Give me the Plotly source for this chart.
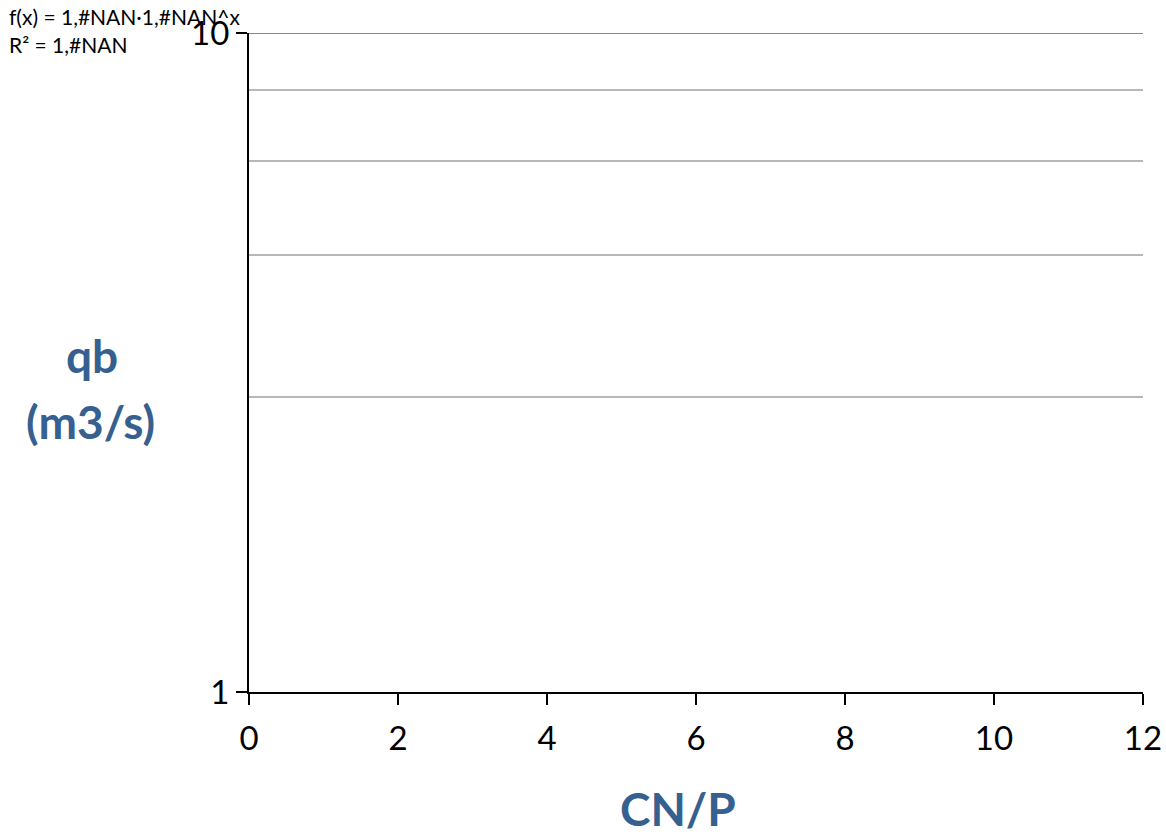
import plotly.graph_objects as go

# Data (the reference chart shows no data points)
cn_p = []
qb = []
x_ticks = [0, 2, 4, 6, 8, 10, 12]
y_major = [1, 10]
y_minor_grid = [2.8, 4.6, 6.4, 8.2]
fit_text = "f(x) = 1,#NAN·1,#NAN^x"
r2_text = "R² = 1,#NAN"

FONT = "Lato, Carlito, Calibri, sans-serif"
BLUE = "#36608f"

fig = go.Figure()
fig.add_trace(go.Scatter(x=cn_p, y=qb, mode="markers", showlegend=False))

fig.update_layout(
    width=1166, height=836,
    margin=dict(l=249, r=23, t=33, b=144, autoexpand=False),
    paper_bgcolor="white", plot_bgcolor="white",
    font=dict(family=FONT, color="black"),
    showlegend=False,
)
fig.update_xaxes(
    range=[0, 12], tickvals=x_ticks, ticktext=[str(v) for v in x_ticks],
    showline=True, linecolor="black", linewidth=2,
    ticks="outside", ticklen=11, tickwidth=2, tickcolor="black",
    showgrid=False, zeroline=False, automargin=False,
    ticklabelstandoff=5,
    tickfont=dict(size=33, family=FONT, color="black"),
)
fig.update_yaxes(
    type="log", range=[0, 1], tickvals=y_major, ticktext=[str(v) for v in y_major],
    showline=True, linecolor="black", linewidth=2,
    ticks="outside", ticklen=11, tickwidth=2, tickcolor="black",
    showgrid=True, gridcolor="#8a8a8a", gridwidth=2,
    zeroline=False, automargin=False,
    tickfont=dict(size=33, family=FONT, color="black"),
    minor=dict(tickvals=y_minor_grid, showgrid=True, gridcolor="#b8b8b8", gridwidth=2, ticks=""),
)

# top major gridline (at the upper edge of the range)
fig.add_shape(type="line", xref="paper", yref="y", x0=0, x1=1,
              y0=y_major[-1], y1=y_major[-1], layer="below",
              line=dict(color="#8a8a8a", width=2))

fig.add_annotation(text="<b>qb</b>", xref="paper", yref="paper",
                   x=-0.176, y=0.511, xanchor="center", yanchor="middle", showarrow=False,
                   font=dict(size=46, family=FONT, color=BLUE))
fig.add_annotation(text="<b>(m3/s)</b>", xref="paper", yref="paper",
                   x=-0.177, y=0.411, xanchor="center", yanchor="middle", showarrow=False,
                   font=dict(size=46, family=FONT, color=BLUE))
fig.add_annotation(text="<b>CN/P</b>", xref="paper", yref="paper",
                   x=0.48, y=-0.176, xanchor="center", yanchor="middle", showarrow=False,
                   height=44, font=dict(size=46, family=FONT, color=BLUE))
fig.add_annotation(text=fit_text, xref="paper", yref="paper",
                   x=-0.2705, y=1.047, xanchor="left", yanchor="top", showarrow=False,
                   font=dict(size=21, family=FONT, color="black"))
fig.add_annotation(text=r2_text, xref="paper", yref="paper",
                   x=-0.2705, y=1.004, xanchor="left", yanchor="top", showarrow=False,
                   font=dict(size=21, family=FONT, color="black"))

fig.write_html("out.html")
